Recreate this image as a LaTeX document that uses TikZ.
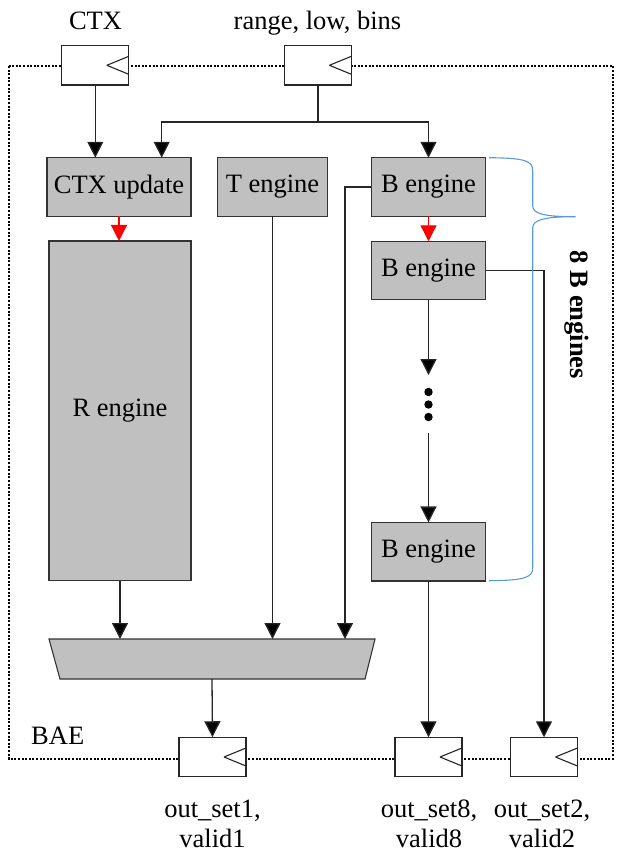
\documentclass[tikz,border=0pt]{standalone}
\usepackage{fontspec}
\setmainfont{Liberation Serif}
\usetikzlibrary{arrows.meta}
\definecolor{boxgray}{HTML}{C0C0C0}
\definecolor{bracecol}{HTML}{5B9BD5}
\tikzset{
  eng/.style={draw=black!80, fill=boxgray, line width=1.1pt, inner sep=0pt, outer sep=0pt, minimum height=58.5pt},
  regbox/.style={draw=black!85, fill=white, line width=1.2pt, inner sep=0pt, outer sep=0pt,
     minimum width=67pt, minimum height=39.5pt,
     path picture={\draw[line width=1.1pt] ([xshift=-22pt]path picture bounding box.east) -- ([yshift=9pt]path picture bounding box.east)
       ([xshift=-22pt]path picture bounding box.east) -- ([yshift=-9pt]path picture bounding box.east);}},
  conn/.style={draw=black!85, line width=1.3pt},
  arr/.style={conn, -{Triangle[width=16pt,length=16pt,fill=black]}},
  redarr/.style={draw=red, line width=1.3pt, -{Triangle[width=16pt,length=16pt]}},
  lbl/.style={inner sep=0pt, anchor=base},
  border/.style={line width=2pt, dash pattern=on 2pt off 1.6pt},
}
\begin{document}
\begin{tikzpicture}[x=1pt,y=-1pt, font=\fontsize{26.5}{30}\selectfont]
\useasboundingbox (0,0) rectangle (616,854);
% BAE border
\draw[border] (8.5,66) rectangle (613,758.5);
% registers
\node[regbox] (ctxreg) at (95.3,65.3) {};
\node[regbox] (rlbreg) at (317.9,65.3) {};
\node[regbox] (o1reg) at (212.5,757) {};
\node[regbox] (o8reg) at (428.5,757) {};
\node[regbox] (o2reg) at (544,757) {};
% top labels
\node[lbl] (ctxlbl) at (95.5,29) {CTX};
\node[lbl] (rlblbl) at (317.5,29) {range, low, bins};
\node[lbl, anchor=base west] (bae) at (31,744) {BAE};
% engines
\node[eng, minimum width=144pt] (ctxu) at (119,187) {CTX update};
\node[eng, minimum width=109.6pt] (teng) at (272.5,187) {T engine};
\node[eng, minimum width=114.4pt] (b1) at (428.5,187) {B engine};
\node[eng, minimum width=114.4pt] (b2) at (428.5,270.5) {B engine};
\node[eng, minimum width=114.4pt] (b8) at (428.5,551.7) {B engine};
\node[eng, minimum width=142pt, minimum height=339.7pt] (reng) at (120,410.8) {R engine};
% mux
\filldraw[draw=black!80, fill=boxgray, line width=1.1pt] (49,639) -- (375,639) -- (365,679) -- (60,679) -- cycle;
\coordinate (muxtop) at (212,639);
\coordinate (muxbot) at (212,679);
\coordinate (muxin3) at (345,639);
% dots
\coordinate (dotsin) at (428.5,375);
\coordinate (dotsout) at (428.5,433);
\fill (428.5,392) circle (4.2pt) (428.5,404.5) circle (4.2pt) (428.5,417) circle (4.2pt);
% connectors top
\coordinate (j1) at (317.9,122);
\draw[arr] (ctxreg.south) -- (ctxreg.south |- ctxu.north);
\draw[conn] (rlbreg.south) -- (j1);
\draw[arr] (j1) -| ([xshift=42.7pt]ctxu.north);
\draw[arr] (j1) -| (b1.north);
\draw[redarr] (ctxu.south) -- (ctxu.south |- reng.north);
\draw[redarr] (b1.south) -- (b2.north);
% to mux
\draw[arr] (reng.south) -- (reng.south |- muxtop);
\draw[arr] (teng.south) -- (teng.south |- muxtop);
\draw[arr] (b1.west) -| (muxin3);
\draw[arr] (muxbot) -- (o1reg.north);
% B chain
\draw[arr] (b2.south) -- (dotsin);
\draw[arr] (dotsout) -- (b8.north);
\draw[arr] (b8.south) -- (o8reg.north);
\draw[arr] (b2.east) -| (o2reg.north);
% brace
\draw[bracecol, line width=1.1pt] (489,157.7) .. controls (526,158) and (532.7,161) .. (532.7,171) -- (532.7,206)
  .. controls (532.7,214) and (545,216.7) .. (575.7,216.7)
  .. controls (545,216.7) and (532.7,219.5) .. (532.7,228) -- (532.7,568)
  .. controls (532.7,577) and (526,580.5) .. (489,580.7);
\node[font=\fontsize{26.5}{30}\selectfont\bfseries, rotate=-90, inner sep=0pt] (nb) at (577,315) {8 B engines};
% bottom labels
\node[lbl, align=center] (o1lbl) at (212.5,847) {out\_set1,\\valid1};
\node[lbl, align=center] (o8lbl) at (429,847) {out\_set8,\\valid8};
\node[lbl, align=center] (o2lbl) at (542,847) {out\_set2,\\valid2};
\end{tikzpicture}
\end{document}
